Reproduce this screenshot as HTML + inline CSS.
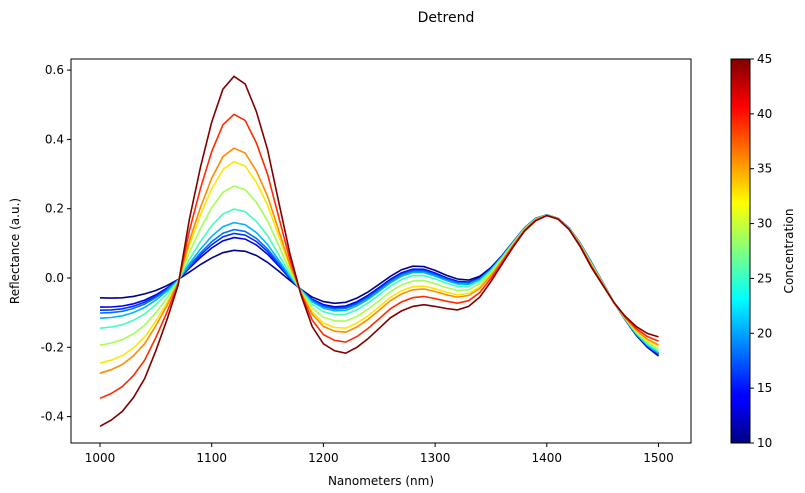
<!DOCTYPE html>
<html><head><meta charset="utf-8"><style>
html,body{margin:0;padding:0;background:#fff;}
svg{display:block;font-family:"DejaVu Sans","Liberation Sans",sans-serif;}
</style></head><body>
<svg id="s" width="805" height="493" viewBox="0 0 805 493" xmlns="http://www.w3.org/2000/svg">
<defs>
<linearGradient id="jet" x1="0" y1="1" x2="0" y2="0">
<stop offset="0" stop-color="#00007f"/>
<stop offset="0.11" stop-color="#0000ff"/>
<stop offset="0.125" stop-color="#0000ff"/>
<stop offset="0.375" stop-color="#00ffff"/>
<stop offset="0.625" stop-color="#ffff00"/>
<stop offset="0.875" stop-color="#ff0000"/>
<stop offset="1" stop-color="#7f0000"/>
</linearGradient>
</defs>
<rect width="805" height="493" fill="#fff"/>
<text x="446" y="22" font-size="14" text-anchor="middle">Detrend</text>
<g id="curves"></g>
<rect x="71" y="59" width="620" height="384" fill="none" stroke="#000" stroke-width="1"/>
<g id="ticks" font-size="12"></g>
<text x="381" y="485" font-size="12" text-anchor="middle">Nanometers (nm)</text>
<text transform="translate(19,251) rotate(-90)" font-size="12" text-anchor="middle">Reflectance (a.u.)</text>
<rect x="731" y="59" width="19" height="384" fill="url(#jet)" stroke="#000" stroke-width="1"/>
<text transform="translate(793,251) rotate(-90)" font-size="12" text-anchor="middle">Concentration</text>
</svg>
<script>
var base=[-0.057,-0.058,-0.057,-0.053,-0.046,-0.036,-0.022,-0.004,0.017,0.039,0.058,0.073,0.080,0.077,0.065,0.045,0.020,-0.007,-0.033,-0.055,-0.068,-0.073,-0.070,-0.058,-0.040,-0.018,0.005,0.024,0.034,0.033,0.022,0.008,-0.003,-0.006,0.005,0.030,0.065,0.105,0.145,0.172,0.182,0.172,0.145,0.100,0.045,-0.012,-0.070,-0.120,-0.165,-0.200,-0.225];
var top_=[-0.428,-0.41,-0.385,-0.345,-0.29,-0.21,-0.12,-0.02,0.17,0.32,0.45,0.545,0.582,0.56,0.48,0.37,0.22,0.07,-0.05,-0.14,-0.19,-0.21,-0.217,-0.2,-0.175,-0.145,-0.115,-0.095,-0.082,-0.077,-0.082,-0.088,-0.092,-0.082,-0.055,-0.01,0.04,0.09,0.135,0.165,0.18,0.17,0.14,0.09,0.03,-0.02,-0.07,-0.11,-0.14,-0.16,-0.17];
var S=[0,0.073,0.097,0.119,0.159,0.237,0.369,0.509,0.587,0.782,1];
var C=["#00008f","#0000e8","#0030ff","#0070ff","#00b4ff","#40ffbc","#a4ff54","#ffe600","#ff8c00","#ff2a00","#800000"];
function X(nm){return 100+(nm-1000)*1.117;}
function Y(v){return 278-v*346.5;}
var g=document.getElementById('curves'),ns="http://www.w3.org/2000/svg";
for(var k=0;k<S.length;k++){var d="";for(var i=0;i<51;i++){var v=base[i]+S[k]*(top_[i]-base[i]);d+=(i?"L":"M")+X(1000+10*i).toFixed(1)+","+Y(v).toFixed(1);}
var p=document.createElementNS(ns,"path");p.setAttribute("d",d);p.setAttribute("fill","none");p.setAttribute("stroke",C[k]);p.setAttribute("stroke-width","1.6");g.appendChild(p);}
var t=document.getElementById('ticks');
function add(tag,at,txt){var e=document.createElementNS(ns,tag);for(var a in at)e.setAttribute(a,at[a]);if(txt)e.textContent=txt;t.appendChild(e);}
for(var n=1000;n<=1500;n+=100){var x=X(n);add("line",{x1:x,x2:x,y1:443,y2:447,stroke:"#000"});add("text",{x:x,y:462,"text-anchor":"middle"},""+n);}
[0.6,0.4,0.2,0,-0.2,-0.4].forEach(function(v){var y=Y(v);add("line",{x1:67,x2:71,y1:y,y2:y,stroke:"#000"});add("text",{x:64,y:y+4,"text-anchor":"end"},v.toFixed(1));});
for(var c=10;c<=45;c+=5){var y=443-(c-10)*384/35;add("line",{x1:750,x2:754,y1:y,y2:y,stroke:"#000"});add("text",{x:757,y:y+4},""+c);}
</script>
</body></html>
